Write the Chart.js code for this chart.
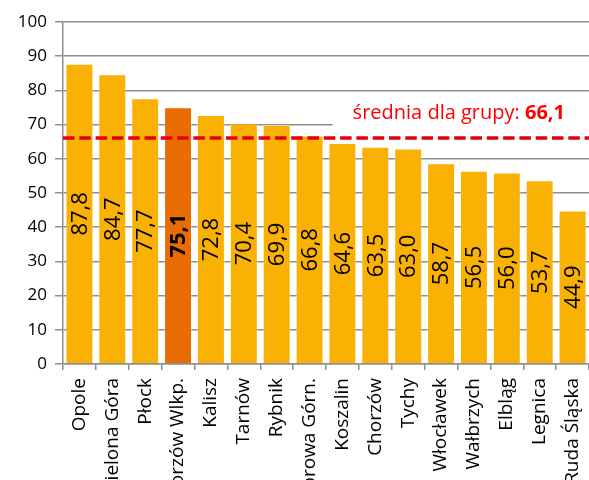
<!DOCTYPE html>
<html>
<head>
<meta charset="utf-8">
<script src="https://cdn.jsdelivr.net/npm/chart.js@4.4.1/dist/chart.umd.min.js"></script>
<style>
  html, body { margin: 0; padding: 0; background: #fff; }
  #wrap { width: 589px; height: 480px; position: relative; }
</style>
</head>
<body>
<div id="wrap"><canvas id="chart"></canvas></div>
<script>
const cities = ['Opole', 'Zielona Góra', 'Płock', 'Gorzów Wlkp.', 'Kalisz', 'Tarnów', 'Rybnik', 'Dąbrowa Górn.',
  'Koszalin', 'Chorzów', 'Tychy', 'Włocławek', 'Wałbrzych', 'Elbląg', 'Legnica', 'Ruda Śląska'];
const values = [87.8, 84.7, 77.7, 75.1, 72.8, 70.4, 69.9, 66.8, 64.6, 63.5, 63.0, 58.7, 56.5, 56.0, 53.7, 44.9];
const highlight = 'Gorzów Wlkp.';
const groupMean = 66.1;
const meanText = 'średnia dla grupy: ';

const FONT = '"Open Sans", sans-serif';
const GRID = '#8e8e8e';
const fmt = v => v.toFixed(1).replace('.', ',');

const barColors = cities.map(c => c === highlight ? '#E86C00' : '#F9B104');

function meanLabelBox(ctx, chartArea, y) {
  ctx.font = '20px ' + FONT;
  const w1 = ctx.measureText(meanText).width;
  ctx.font = 'bold 20px ' + FONT;
  const w2 = ctx.measureText(fmt(groupMean)).width;
  const x0 = chartArea.right - 24 - w1 - w2;
  return { x0, w1, w2, yy: y.getPixelForValue(groupMean) - 25 };
}

// white box behind the mean label (covers the gridline, as in the original)
const meanBox = {
  id: 'meanBox',
  beforeDatasetsDraw(chart) {
    const { ctx, chartArea, scales: { y } } = chart;
    ctx.save();
    const b = meanLabelBox(ctx, chartArea, y);
    ctx.fillStyle = '#fff';
    ctx.fillRect(b.x0 - 20, b.yy - 13, chartArea.right - b.x0 + 20, 28);
    ctx.restore();
  }
};

const overlay = {
  id: 'overlay',
  afterDatasetsDraw(chart) {
    const { ctx, chartArea, scales: { y } } = chart;
    const meta = chart.getDatasetMeta(0);
    ctx.save();
    // values inside bars
    meta.data.forEach((bar, i) => {
      const mid = y.getPixelForValue(values[i] / 2);
      ctx.save();
      ctx.translate(bar.x, mid);
      ctx.rotate(-Math.PI / 2);
      ctx.font = (cities[i] === highlight ? 'bold ' : '') + '22px ' + FONT;
      ctx.fillStyle = '#000';
      ctx.textAlign = 'center';
      ctx.textBaseline = 'middle';
      ctx.fillText(fmt(values[i]), 0, 1);
      ctx.restore();
    });
    // dashed mean line
    const ym = y.getPixelForValue(groupMean);
    ctx.strokeStyle = '#E3000F';
    ctx.lineWidth = 3.5;
    ctx.setLineDash([11.5, 4.8]);
    ctx.beginPath();
    ctx.moveTo(chartArea.left, ym);
    ctx.lineTo(chartArea.right, ym);
    ctx.stroke();
    // label
    ctx.setLineDash([]);
    const b = meanLabelBox(ctx, chartArea, y);
    ctx.textBaseline = 'middle';
    ctx.textAlign = 'left';
    ctx.fillStyle = '#FF0000';
    ctx.font = '20px ' + FONT;
    ctx.fillText(meanText, b.x0, b.yy);
    ctx.font = 'bold 20px ' + FONT;
    ctx.fillText(fmt(groupMean), b.x0 + b.w1, b.yy);
    ctx.restore();
  }
};

new Chart(document.getElementById('chart'), {
  type: 'bar',
  data: {
    labels: cities,
    datasets: [{
      data: values,
      backgroundColor: barColors,
      borderColor: 'rgba(255,255,255,0.3)',
      borderWidth: 1,
      barPercentage: 0.85,
      categoryPercentage: 1
    }]
  },
  options: {
    responsive: true,
    maintainAspectRatio: false,
    animation: false,
    layout: { padding: { top: 22, right: 0, left: 0, bottom: 0 } },
    plugins: { legend: { display: false }, tooltip: { enabled: false } },
    scales: {
      x: {
        grid: { display: true, drawOnChartArea: false, color: GRID, lineWidth: 1.5, tickLength: 6, offset: true },
        border: { color: GRID, width: 1.5 },
        ticks: { color: '#000', font: { family: FONT, size: 19 }, minRotation: 90, maxRotation: 90, autoSkip: false, padding: 8 },
        afterFit: s => { s.height = 116; s.paddingLeft = 0; s.paddingRight = 0; }
      },
      y: {
        min: 0, max: 100,
        ticks: { stepSize: 10, color: '#000', font: { family: FONT, size: 17 }, padding: 8 },
        grid: { color: GRID, lineWidth: 1.5, tickLength: 8 },
        border: { color: GRID, width: 1.5 },
        afterFit: s => { s.width = 63; }
      }
    }
  },
  plugins: [meanBox, overlay]
});
</script>
</body>
</html>
